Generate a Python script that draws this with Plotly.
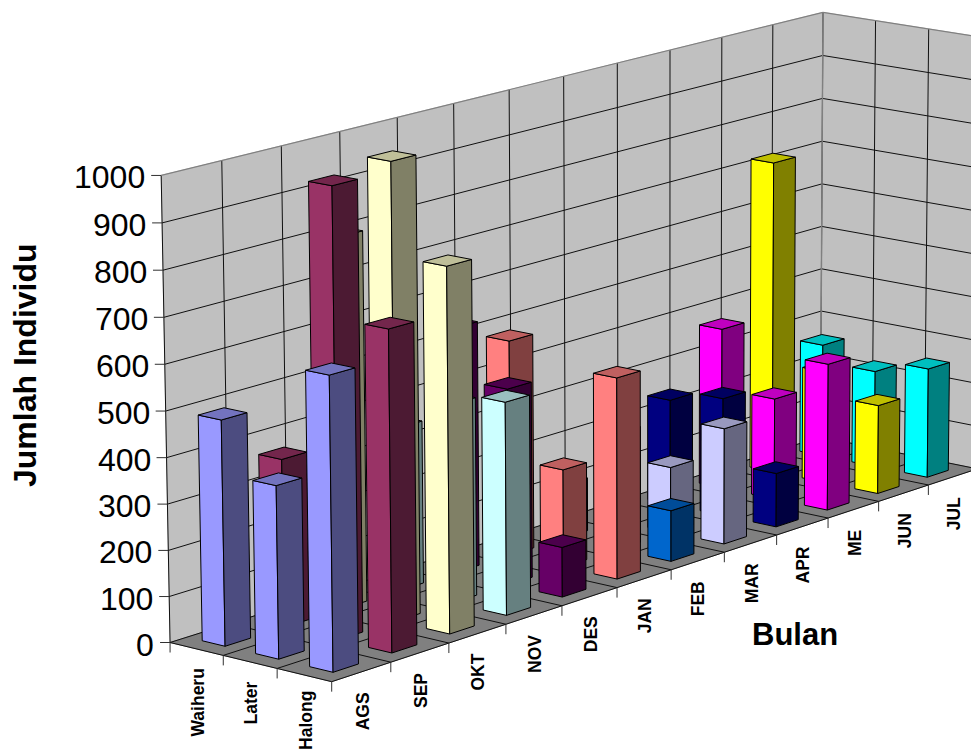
import numpy as np
import plotly.graph_objects as go

# Chart data: individuals per month at three sites
months = ["AGS", "SEP", "OKT", "NOV", "DES", "JAN", "FEB", "MAR", "APR", "ME", "JUN", "JUL"]
sites = ["Waiheru", "Later", "Halong"]
waiheru = [488, 366, 810, 360, 544, 481, 120, 200, 240, 368, 718, 261]
later = [373, 974, 994, 436, 434, 218, 100, 148, 268, 231, 258, 223]
halong = [632, 694, 793, 466, 110, 447, 114, 261, 122, 335, 204, 253]
value_ticks = list(range(0, 1001, 100))
month_colors = ["#9999FF", "#993366", "#FFFFCC", "#CCFFFF", "#660066", "#FF8080",
                "#0066CC", "#CCCCFF", "#000080", "#FF00FF", "#FFFF00", "#00FFFF"]

series_values = [waiheru, later, halong]
BAR_INSET = 0.285
FONT = "Liberation Sans, Arial, sans-serif"

# Camera: (site, month, value) box corners paired with their page positions,
# solved below into a single 3x4 perspective matrix.
camera_box = [
    (0, 0, 0), (1, 0, 0), (2, 0, 0), (3, 0, 0),
    (3, 1, 0), (3, 2, 0), (3, 3, 0), (3, 4, 0), (3, 5, 0), (3, 6, 0),
    (3, 7, 0), (3, 8, 0), (3, 9, 0), (3, 10, 0), (3, 11, 0), (3, 12, 0),
    (0, 12, 0), (0, 0, 1000), (0, 1, 1000), (0, 2, 1000), (0, 3, 1000),
    (0, 12, 1000), (1, 12, 1000), (2, 12, 1000),
    (0, 12, 900), (0, 12, 800), (0, 12, 700),
    (0, 0, 900), (0, 0, 800), (0, 0, 700), (0, 0, 600), (0, 0, 100),
]
camera_page = [
    (170, 641), (222, 656), (276, 669), (333, 682),
    (392, 663), (449, 644), (506, 625), (562, 606), (616, 588), (671, 570),
    (725, 553), (776, 534), (828, 518), (879, 500), (928, 484), (977, 467),
    (821, 441), (160, 177), (221.7, 161), (281.7, 145), (340.7, 131.7),
    (822.7, 12), (877, 20), (928, 30),
    (822.5, 56), (822.3, 97.5), (822, 141),
    (161.7, 222.7), (163, 271), (164, 317), (165, 362.7), (170, 594),
]


def solve_camera(box, page):
    # Normalise the value axis so the linear system is well conditioned
    rows = []
    for (u, v, w), (x, y) in zip(box, page):
        p = [u, v, w / 100.0, 1.0]
        rows.append(p + [0, 0, 0, 0] + [-x * c for c in p])
        rows.append([0, 0, 0, 0] + p + [-y * c for c in p])
    _, _, vt = np.linalg.svd(np.array(rows, dtype=float))
    return vt[-1].reshape(3, 4)


CAM = solve_camera(camera_box, camera_page)


def project(u, v, w):
    q = CAM @ np.array([u, v, w / 100.0, 1.0])
    return q[0] / q[2], q[1] / q[2]


fig = go.Figure()


def add_face(corners, fill, edge=None):
    pts = [project(*c) for c in corners] + [project(*corners[0])]
    fig.add_trace(go.Scatter(
        x=[p[0] for p in pts], y=[p[1] for p in pts], mode="lines", fill="toself",
        fillcolor=fill, line=dict(color=edge or fill, width=1),
        hoverinfo="skip", showlegend=False))


def add_segments(segments, color, width=1):
    xs, ys = [], []
    for a, b in segments:
        xs += [a[0], b[0], None]
        ys += [a[1], b[1], None]
    fig.add_trace(go.Scatter(x=xs, y=ys, mode="lines", line=dict(color=color, width=width),
                             hoverinfo="skip", showlegend=False))


def shade(hex_color, k):
    r, g, b = (int(hex_color[i:i + 2], 16) for i in (1, 3, 5))
    return "#%02X%02X%02X" % (round(r * k), round(g * k), round(b * k))


nu, nv, top = len(sites), len(months), value_ticks[-1]

# Walls and floor
add_face([(0, 0, 0), (0, nv, 0), (0, nv, top), (0, 0, top)], "#C0C0C0")
add_face([(0, nv, 0), (nu, nv, 0), (nu, nv, top), (0, nv, top)], "#C0C0C0")
add_face([(0, 0, 0), (nu, 0, 0), (nu, nv, 0), (0, nv, 0)], "#808080")

# Gridlines
grid = []
for t in value_ticks[1:-1]:
    grid.append((project(0, 0, t), project(0, nv, t)))
    grid.append((project(0, nv, t), project(nu, nv, t)))
for k in range(nv + 1):
    grid.append((project(0, k, 0), project(0, k, top)))
    grid.append((project(0, k, 0), project(nu, k, 0)))
for k in range(1, nu + 1):
    grid.append((project(k, nv, 0), project(k, nv, top)))
for k in range(nu + 1):
    grid.append((project(k, 0, 0), project(k, nv, 0)))
add_segments(grid, "#101010")
add_segments([(project(0, 0, top), project(0, nv, top)),
              (project(0, nv, top), project(nu, nv, top))], "#808080", 1.2)
add_segments([(project(0, nv, 0), project(0, nv, top))], "#808080", 1.4)

# Bars, painted from the far corner towards the viewer
for m in range(nv - 1, -1, -1):
    for s in range(nu):
        h = series_values[s][m]
        c = month_colors[m]
        u0, u1 = s + BAR_INSET, s + 1 - BAR_INSET
        v0, v1 = m + BAR_INSET, m + 1 - BAR_INSET
        add_face([(u0, v0, 0), (u1, v0, 0), (u1, v0, h), (u0, v0, h)], c, "#000000")
        add_face([(u1, v0, 0), (u1, v1, 0), (u1, v1, h), (u1, v0, h)], shade(c, 0.5), "#000000")
        add_face([(u0, v0, h), (u1, v0, h), (u1, v1, h), (u0, v1, h)], shade(c, 0.75), "#000000")

# Axis ticks
ticks = []
for t in value_ticks:
    x, y = project(0, 0, t)
    ticks.append(((x - 10, y), (x, y)))
for k in range(nu + 1):
    x, y = project(k, 0, 0)
    ticks.append(((x, y), (x, y + 10)))
for k in range(1, nv + 1):
    x, y = project(nu, k, 0)
    ticks.append(((x, y), (x, y + 10)))
add_segments(ticks, "#303030")

# Value labels
annotations = []
for t in value_ticks:
    x, y = project(0, 0, t)
    annotations.append(dict(x=x - 14, y=y + 2, text=str(t), showarrow=False, xanchor="right",
                            yanchor="middle", font=dict(family=FONT, size=32, color="#000000")))


def category_label(text, u, v, lift=0):
    x, y = project(u, v, 0)
    annotations.append(dict(x=x + 1, y=y + 18 - lift, text=text, showarrow=False, textangle=-90,
                            xanchor="center", yanchor="top",
                            font=dict(family=FONT, size=17.5, weight=700, color="#000000")))


# The longest label on the lowest cell is raised so it stays on the page
for i, name in enumerate(sites):
    category_label(name, i + 0.5, 0, lift=4 if i == 2 else 0)
for i, name in enumerate(months):
    category_label(name, nu, i + 0.5)

# Axis titles
annotations.append(dict(x=25, y=365, text="<b>Jumlah Individu</b>", showarrow=False, textangle=-90,
                        font=dict(family=FONT, size=32, color="#000000")))
annotations.append(dict(x=795, y=634, text="<b>Bulan</b>", showarrow=False,
                        font=dict(family=FONT, size=31, color="#000000")))

fig.update_layout(
    width=971, height=751, autosize=False,
    margin=dict(l=0, r=0, t=0, b=0),
    paper_bgcolor="#FFFFFF", plot_bgcolor="#FFFFFF",
    showlegend=False,
    xaxis=dict(range=[0, 971], visible=False, fixedrange=True),
    yaxis=dict(range=[751, 0], visible=False, fixedrange=True),
    annotations=annotations,
)
fig.write_html("out.html")
